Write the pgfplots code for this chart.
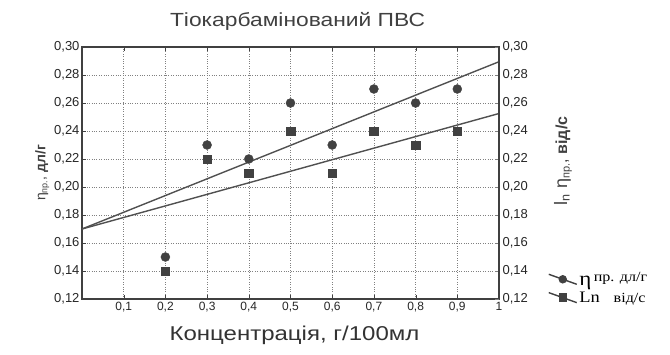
\documentclass[border=0pt]{standalone}
\usepackage{pgfplots}
\pgfplotsset{compat=1.18}
\usepackage{fontspec}
\setmainfont{Liberation Sans}
\newfontfamily\widesans[FakeStretch=1.2]{Liberation Sans}
\newfontfamily\serifleg[FakeStretch=1.15]{Liberation Serif}
\definecolor{ln}{RGB}{80,80,80}
\definecolor{mk}{RGB}{65,65,65}
\begin{document}
\begin{tikzpicture}[x=1pt,y=1pt]
\path[use as bounding box] (-82,-55) rectangle (588,299);
\begin{axis}[
  at={(0,0)}, anchor=south west,
  width=417pt, height=252pt, scale only axis,
  xmin=0, xmax=1, ymin=0.12, ymax=0.30,
  xtick={0.1,0.2,0.3,0.4,0.5,0.6,0.7,0.8,0.9,1},
  ytick={0.12,0.14,...,0.30},
  axis line style={line width=1.5pt, draw=black!75},
  tick style={draw=black!75},
  grid=major, grid style={dotted, black!50},
  /pgf/number format/assume math mode=true,
  yticklabel style={font=\fontsize{13}{14}\selectfont, black!85, xshift=1pt},
  xticklabel style={font=\fontsize{12}{14}\selectfont, black!85},
  yticklabel style={/pgf/number format/.cd, fixed, fixed zerofill, precision=2, use comma},
  xticklabel style={/pgf/number format/.cd, fixed, precision=1, use comma},
  xlabel={Концентрація, г/100мл},
  xlabel style={font=\widesans\fontsize{20}{22}\selectfont, black!80, yshift=-7pt, xshift=4pt},
  ylabel={\fontsize{14}{16}\selectfont η\textsubscript{\fontsize{9}{10}\selectfont пр.}, \bfseries дл/г},
  ylabel style={font=\fontsize{13}{15}\selectfont, black!75, yshift=-2pt},
  title={Тіокарбамінований ПВС},
  title style={font=\widesans\fontsize{19}{21}\selectfont, black!75, yshift=7pt, xshift=7pt},
  legend style={at={(rel axis cs:1.11,-0.035)}, anchor=south west, draw=none, fill=none,
    font=\serifleg\fontsize{14}{16}\selectfont, row sep=1pt},
  legend cell align=left,
  legend image code/.code={%
    \draw[mark repeat=2, mark phase=2, #1] plot coordinates {(0pt,5pt)(14pt,0pt)(28pt,-5pt)};},
]
\addplot[only marks, mark=*, mark size=4.5pt, mk, forget plot] coordinates {
 (0.2,0.15) (0.3,0.23) (0.4,0.22) (0.5,0.26) (0.6,0.23) (0.7,0.27) (0.8,0.26) (0.9,0.27)};
\addplot[only marks, mark=square*, mark size=4.3pt, mk, forget plot] coordinates {
 (0.2,0.14) (0.3,0.22) (0.4,0.21) (0.5,0.24) (0.6,0.21) (0.7,0.24) (0.8,0.23) (0.9,0.24)};
\addplot[ln, line width=1.4pt, forget plot] coordinates {(0,0.170) (1,0.2895)};
\addplot[ln, line width=1.4pt, forget plot] coordinates {(0,0.170) (1,0.2525)};
\addlegendimage{mk, line width=1.4pt, mark=*, mark size=3.5pt}
\addlegendentry{{\fontsize{20}{20}\selectfont η}\,\raisebox{4pt}{пр. дл/г}}
\addlegendimage{mk, line width=1.4pt, mark=square*, mark size=3.5pt}
\addlegendentry{\fontsize{16}{16}\selectfont Ln \ \ \fontsize{14}{16}\selectfont від/с}
\end{axis}
\begin{axis}[
  at={(0,0)}, anchor=south west,
  width=417pt, height=252pt, scale only axis,
  xmin=0, xmax=1, ymin=0.12, ymax=0.30,
  axis y line*=right, axis x line=none,
  ytick={0.12,0.14,...,0.30},
  axis line style={line width=1.5pt, draw=black!75},
  /pgf/number format/assume math mode=true,
  yticklabel style={font=\fontsize{13}{14}\selectfont, black!85},
  yticklabel style={/pgf/number format/.cd, fixed, fixed zerofill, precision=2, use comma},
]
\end{axis}
\node[rotate=90, font=\fontsize{16}{18}\selectfont, text=black!75] at (481,138)
  {{\fontsize{18}{20}\selectfont l\textsubscript{n} η\textsubscript{\fontsize{11}{12}\selectfont пр.}}, \bfseries від/с};
\end{tikzpicture}
\end{document}
